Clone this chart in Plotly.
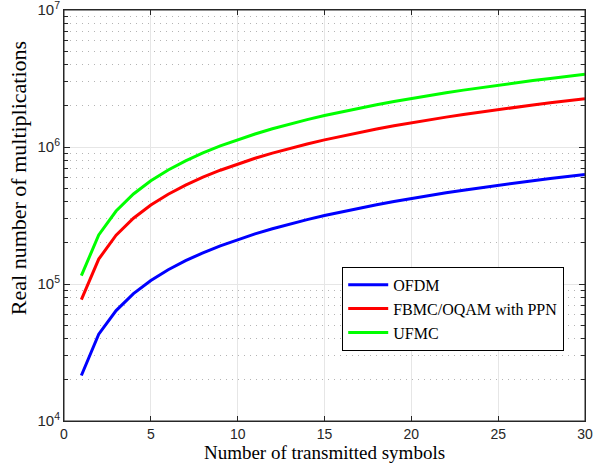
import plotly.graph_objects as go

symbols = list(range(1, 31))
ofdm = [21500, 43000, 64000, 85000, 106000, 127000, 148000, 169000, 190000, 211000,
        232000, 253000, 274000, 295000, 316000, 337000, 358000, 379000, 400000, 421000,
        442000, 463000, 484000, 505000, 526000, 547000, 568000, 589000, 610000, 631000]
fbmc = [77000, 152000, 227000, 302000, 377000, 452000, 527000, 602000, 677000, 752000,
        827000, 902000, 977000, 1052000, 1127000, 1202000, 1277000, 1352000, 1427000, 1502000,
        1577000, 1652000, 1727000, 1802000, 1877000, 1952000, 2027000, 2102000, 2177000, 2252000]
ufmc = [115000, 228000, 341000, 454000, 567000, 680000, 793000, 906000, 1019000, 1132000,
        1245000, 1358000, 1471000, 1584000, 1697000, 1810000, 1923000, 2036000, 2149000, 2262000,
        2375000, 2488000, 2601000, 2714000, 2827000, 2940000, 3053000, 3166000, 3279000, 3392000]

names = ["OFDM", "FBMC/OQAM with PPN", "UFMC"]
colors = ["#0000ff", "#ff0000", "#00ff00"]
x_ticks = [0, 5, 10, 15, 20, 25, 30]
y_ticks = [1e4, 1e5, 1e6, 1e7]
y_ticktext = ["10<sup>4</sup>", "10<sup>5</sup>", "10<sup>6</sup>", "10<sup>7</sup>"]
y_minor = [m * d for d in (1e4, 1e5, 1e6) for m in range(2, 10)]
x_title = "Number of transmitted symbols"
y_title = "Real number of multiplications"

fig = go.Figure()
for name, ys, c in zip(names, [ofdm, fbmc, ufmc], colors):
    fig.add_trace(go.Scatter(x=symbols, y=ys, mode="lines", name=name,
                             line=dict(color=c, width=3)))

serif = "Liberation Serif, Times New Roman, serif"
sans = "Liberation Sans, Arial, sans-serif"
axis_col = "#262626"

fig.update_layout(
    width=593, height=475,
    margin=dict(l=64, r=8, t=10, b=54, autoexpand=False),
    paper_bgcolor="white", plot_bgcolor="white",
    showlegend=True,
    legend=dict(x=0.534, y=0.375, xanchor="left", yanchor="top",
                bgcolor="white", bordercolor="black", borderwidth=1,
                font=dict(family=serif, size=16, color="black"),
                itemwidth=40, tracegroupgap=0),
    shapes=[dict(type="rect", xref="paper", yref="paper", x0=0, x1=1, y0=0, y1=1,
                 line=dict(color=axis_col, width=1), fillcolor="rgba(0,0,0,0)", layer="above")],
    annotations=[dict(text=y_title, xref="paper", yref="paper", x=-0.087, y=0.59,
                      xanchor="center", yanchor="middle", textangle=-90, showarrow=False,
                      font=dict(family=serif, size=22, color="black"))],
)
fig.update_xaxes(
    range=[0, 30], tickmode="array", tickvals=x_ticks,
    showgrid=True, gridcolor="#e6e6e6", gridwidth=1,
    showline=True, linecolor=axis_col, linewidth=1, mirror="allticks",
    ticks="inside", ticklen=5, tickcolor=axis_col,
    tickfont=dict(family=sans, size=14, color=axis_col), ticklabeloverflow="allow",
    title=dict(text=x_title, font=dict(family=serif, size=19, color="black"), standoff=3),
    zeroline=False, automargin=False,
)
fig.update_yaxes(
    type="log", range=[4, 7], tickmode="array", tickvals=y_ticks, ticktext=y_ticktext,
    showgrid=True, gridcolor="#e6e6e6", gridwidth=1,
    showline=True, linecolor=axis_col, linewidth=1, mirror="allticks",
    ticks="inside", ticklen=6, tickcolor=axis_col,
    tickfont=dict(family=sans, size=15, color=axis_col), ticklabeloverflow="allow",
    minor=dict(tickmode="array", tickvals=y_minor, ticks="inside", ticklen=4, tickcolor=axis_col,
               showgrid=True, gridcolor="#b4b4b4", griddash="1px,5px", gridwidth=1),
    zeroline=False, automargin=False,
)

fig.write_html("out.html", config={"displayModeBar": False},
               post_script="document.body.style.margin='0';document.body.style.padding='0';")
